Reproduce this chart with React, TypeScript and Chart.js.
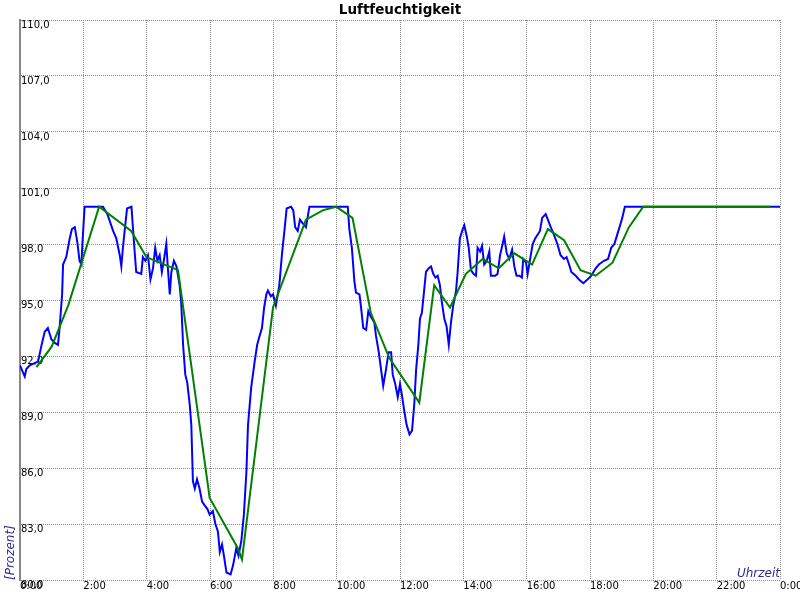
import React, { useEffect, useRef } from "react";
import { Chart, registerables } from "chart.js";

Chart.register(...registerables);

const TITLE = "Luftfeuchtigkeit";
const X_TITLE = "Uhrzeit";
const Y_TITLE = "[Prozent]";

// time in hours, relative humidity in percent
const blueTimes = [
  0.0, 0.15, 0.2, 0.31, 0.57, 0.67, 0.78, 0.88, 0.99, 1.1, 1.2, 1.25, 1.33, 1.36, 1.46, 1.57, 1.64, 1.73, 1.81, 1.88,
  1.94, 1.97, 2.04, 2.62, 2.76, 2.94, 3.04, 3.15, 3.2, 3.25, 3.31, 3.38, 3.52, 3.57, 3.62, 3.67, 3.83, 3.88, 3.96, 4.04,
  4.12, 4.2, 4.27, 4.34, 4.41, 4.48, 4.55, 4.62, 4.67, 4.73, 4.78, 4.86, 4.94, 5.04, 5.09, 5.15, 5.22, 5.28, 5.36, 5.41,
  5.46, 5.52, 5.59, 5.67, 5.75, 5.83, 5.92, 5.99, 6.09, 6.17, 6.25, 6.31, 6.38, 6.44, 6.52, 6.65, 6.73, 6.83, 6.9, 6.99,
  7.07, 7.15, 7.2, 7.3, 7.41, 7.49, 7.57, 7.64, 7.71, 7.78, 7.83, 7.92, 7.99, 8.08, 8.19, 8.27, 8.35, 8.42, 8.56, 8.63,
  8.69, 8.77, 8.84, 8.93, 9.03, 9.14, 10.35, 10.4, 10.48, 10.56, 10.61, 10.72, 10.77, 10.84, 10.93, 11.0, 11.08, 11.19,
  11.24, 11.33, 11.4, 11.47, 11.56, 11.64, 11.72, 11.77, 11.85, 11.93, 12.0, 12.06, 12.14, 12.21, 12.3, 12.38, 12.45,
  12.51, 12.58, 12.63, 12.69, 12.75, 12.82, 12.91, 12.98, 13.05, 13.12, 13.19, 13.26, 13.32, 13.4, 13.47, 13.54, 13.61,
  13.68, 13.77, 13.82, 13.89, 13.98, 14.03, 14.11, 14.17, 14.24, 14.32, 14.4, 14.45, 14.53, 14.59, 14.66, 14.74, 14.82,
  14.87, 15.01, 15.08, 15.16, 15.24, 15.29, 15.37, 15.45, 15.54, 15.61, 15.68, 15.77, 15.85, 15.89, 15.98, 16.03, 16.1,
  16.19, 16.27, 16.42, 16.49, 16.6, 16.67, 16.76, 16.86, 16.97, 17.07, 17.18, 17.26, 17.34, 17.41, 17.55, 17.65, 17.79,
  17.92, 18.04, 18.18, 18.28, 18.44, 18.57, 18.67, 18.77, 18.86, 18.95, 19.02, 19.1, 24.0,
];
const blueValues = [
  91.5, 90.9, 91.3, 91.5, 91.7, 92.5, 93.3, 93.5, 92.9, 92.7, 92.6, 93.5, 95.3, 96.9, 97.3, 98.3, 98.8, 98.9, 98.1, 97.1,
  96.9, 98.0, 100, 100, 99.6, 98.7, 98.3, 97.4, 96.8, 97.8, 98.8, 99.9, 100, 98.8, 97.6, 96.5, 96.4, 97.3, 97.1, 97.4,
  96.1, 96.7, 97.8, 97.1, 97.4, 96.5, 97.2, 98.0, 96.7, 95.3, 96.5, 97.1, 96.8, 95.8, 94.9, 92.6, 91.0, 90.6, 89.4, 88.3,
  85.3, 84.9, 85.4, 84.9, 84.2, 84.0, 83.8, 83.5, 83.7, 83.0, 82.6, 81.5, 81.9, 81.3, 80.4, 80.3, 80.8, 81.7, 81.3, 82.1,
  83.5, 85.8, 88.3, 90.3, 91.7, 92.6, 93.1, 93.5, 94.6, 95.3, 95.5, 95.2, 95.3, 94.7, 95.8, 97.4, 98.7, 99.9, 100, 99.8,
  98.9, 98.7, 99.3, 99.1, 98.9, 100, 100, 98.8, 97.8, 96.0, 95.4, 95.3, 94.6, 93.5, 93.4, 94.4, 94.1, 93.8,
  93.1, 92.2, 91.3, 90.4, 91.3, 92.2, 92.2, 91.0, 90.5, 89.8, 90.5, 89.9, 89.0, 88.3, 87.8, 88.0, 89.4,
  91.3, 92.6, 94.0, 94.3, 95.3, 96.5, 96.7, 96.8, 96.4, 96.2, 96.3, 95.8, 94.9, 94.0, 93.6, 92.6, 93.8,
  94.7, 95.5, 96.5, 98.3, 98.8, 99.0, 98.4, 97.8, 96.6, 96.4, 96.3, 97.8, 97.6, 97.9, 96.9, 97.1, 97.6,
  96.3, 96.3, 96.4, 97.4, 98.0, 98.4, 97.5, 97.2, 97.7, 96.8, 96.3, 96.3, 96.2, 97.2, 97.0, 96.4, 97.1,
  98.0, 98.3, 98.7, 99.4, 99.6, 99.3, 98.9, 98.5, 98.0, 97.4, 97.2, 97.3, 96.9, 96.5, 96.3, 96.1, 95.9,
  96.1, 96.3, 96.7, 96.9, 97.1, 97.2, 97.8, 98.0, 98.5, 99.0, 99.4, 100, 100,
];

const greenTimes = [
  0.52, 1.0, 1.52, 2.5, 3.51, 3.99, 4.99, 5.99, 6.88, 7.01, 7.99, 9.03, 9.56, 9.98, 10.5, 11.08, 11.66, 12.61, 13.08,
  13.58, 14.08, 14.61, 15.12, 15.61, 16.17, 16.67, 17.18, 17.7, 18.18, 18.71, 19.23, 19.68, 23.7,
];
const greenValues = [
  91.4, 92.5, 94.7, 100, 98.7, 97.3, 96.6, 84.4, 81.7, 81.1, 94.6, 99.3, 99.8, 100, 99.4, 94.3, 91.9, 89.5, 95.8,
  94.6, 96.4, 97.2, 96.7, 97.5, 96.9, 98.8, 98.2, 96.6, 96.3, 97.0, 98.9, 100, 100,
];

const X_MIN = 0;
const X_MAX = 24;
const X_STEP = 2;
const Y_MIN = 80;
const Y_MAX = 110;
const Y_STEP = 3;

const FONT = '"DejaVu Sans", sans-serif';
const GRID_COLOR = "#8a8a8a";
const AXIS_TITLE_COLOR = "#2a2a9a";

const textPlugin = {
  id: "texts",
  afterDraw(chart: any) {
    const ctx = chart.ctx as CanvasRenderingContext2D;
    const { left, right, bottom } = chart.chartArea;
    ctx.save();
    ctx.fillStyle = "#000";
    ctx.font = `bold 13.5px ${FONT}`;
    ctx.textAlign = "center";
    ctx.textBaseline = "alphabetic";
    ctx.fillText(TITLE, (left + right) / 2, 14);

    ctx.fillStyle = AXIS_TITLE_COLOR;
    ctx.font = `italic 12px ${FONT}`;
    ctx.textAlign = "right";
    ctx.fillText(X_TITLE, right, bottom - 3);

    ctx.translate(14, bottom);
    ctx.rotate(-Math.PI / 2);
    ctx.textAlign = "left";
    ctx.fillText(Y_TITLE, 0, 0);
    ctx.restore();
  },
};

export default function App() {
  const ref = useRef<HTMLCanvasElement | null>(null);

  useEffect(() => {
    if (!ref.current) return;
    const blue = blueTimes.map((t, i) => ({ x: t, y: blueValues[i] }));
    const green = greenTimes.map((t, i) => ({ x: t, y: greenValues[i] }));
    const chart = new Chart(ref.current, {
      type: "line",
      data: {
        datasets: [
          {
            data: blue,
            borderColor: "#0000ff",
            borderWidth: 2,
            pointRadius: 0,
            tension: 0,
            order: 1,
          },
          {
            data: green,
            borderColor: "#008000",
            borderWidth: 2,
            pointRadius: 0,
            tension: 0,
            order: 0,
          },
        ],
      },
      options: {
        animation: false,
        responsive: false,
        devicePixelRatio: 1,
        layout: { padding: { left: 0, top: 20, right: 20, bottom: 0 }, autoPadding: false },
        plugins: { legend: { display: false }, title: { display: false }, tooltip: { enabled: false } },
        scales: {
          x: {
            type: "linear",
            min: X_MIN,
            max: X_MAX,
            afterFit: (s: any) => {
              s.height = 20;
              s.paddingLeft = 0;
              s.paddingRight = 0;
            },
            grid: { color: GRID_COLOR, lineWidth: 1, drawTicks: false },
            border: { display: false, dash: [1, 1] },
            ticks: {
              stepSize: X_STEP,
              autoSkip: false,
              maxRotation: 0,
              align: "start",
              padding: 0,
              color: "#000",
              font: { family: FONT, size: 10 },
              callback: (v: any) => `${Number(v) % 24}:00`,
            },
          },
          y: {
            min: Y_MIN,
            max: Y_MAX,
            afterFit: (s: any) => {
              s.width = 20;
              s.paddingTop = 0;
              s.paddingBottom = 0;
            },
            grid: { color: GRID_COLOR, lineWidth: 1, drawTicks: false },
            border: { display: true, color: "#888888", width: 2, dash: [1, 1] },
            ticks: {
              stepSize: Y_STEP,
              autoSkip: false,
              mirror: true,
              align: "start",
              padding: 1,
              color: "#000",
              font: { family: FONT, size: 10 },
              callback: (v: any) => Number(v).toFixed(1).replace(".", ","),
            },
          },
        },
      },
      plugins: [textPlugin],
    } as any);
    return () => chart.destroy();
  }, []);

  return (
    <div style={{ position: "fixed", left: 0, top: 0, width: 800, height: 600, background: "#fff" }}>
      <canvas ref={ref} width={800} height={600} style={{ display: "block" }} />
    </div>
  );
}
